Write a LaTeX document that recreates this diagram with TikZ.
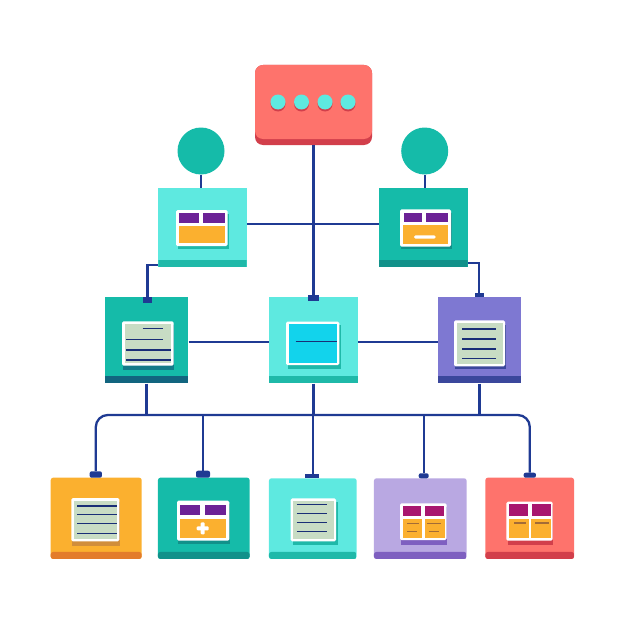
\documentclass[tikz,border=0pt]{standalone}
\usepackage{tikz}
\usetikzlibrary{positioning}
\definecolor{coral}{HTML}{FE736C}
\definecolor{coraldark}{HTML}{D23F4B}
\definecolor{aqua}{HTML}{5EE9E0}
\definecolor{aquadark}{HTML}{1FB9A9}
\definecolor{teal1}{HTML}{15BBA9}
\definecolor{tealdark}{HTML}{11918A}
\definecolor{tealblue}{HTML}{12657F}
\definecolor{violet1}{HTML}{7E78D2}
\definecolor{violetdark}{HTML}{3B479C}
\definecolor{lilac}{HTML}{B9A8E2}
\definecolor{lilacdark}{HTML}{7E5FC0}
\definecolor{amber}{HTML}{FBB02F}
\definecolor{amberdark}{HTML}{E37C2B}
\definecolor{navy1}{HTML}{1F3A93}
\definecolor{purple1}{HTML}{6C2296}
\definecolor{magenta1}{HTML}{A8176F}
\definecolor{sage}{HTML}{C8DCC4}
\definecolor{sky}{HTML}{12D3EC}
\tikzset{
    card/.style 2 args={rectangle, inner sep=0pt, fill=#1, path picture={
        \fill[#2] ([yshift=7pt]path picture bounding box.south west) rectangle (path picture bounding box.south east);}},
    soft/.style={rounded corners=2.5pt},
    bubble/.style={circle, inner sep=0pt, minimum size=47pt, fill=teal1},
    tab/.style={rectangle, inner sep=0pt, fill=navy1},
    tabround/.style={tab, rounded corners=2pt},
    link/.style={draw=navy1, line width=2.3pt},
    sheet/.style={fill=white, rounded corners=1.5pt},
    rule/.style={draw=navy1!80!black, line width=1.4pt},
    dash1/.style={draw=brown!85!black, line width=1.4pt}
}
\begin{document}
\begin{tikzpicture}[x=1pt,y=-1pt]
    \useasboundingbox (0,0) rectangle (626,626);
    % top box
    \node[rectangle, inner sep=0pt, rounded corners=8pt, fill=coraldark, minimum width=117pt, minimum height=80pt] (head) at (313.5,105) {};
    \fill[coral, rounded corners=8pt] (255,65) rectangle (372,139);
    \foreach \x in {278,301.5,325,348} {
        \fill[coraldark] (\x,104) circle (7.5);
        \fill[aqua] (\x,102) circle (7.5);
    }
    \node[bubble] (circL) at (201,151) {};
    \node[bubble] (circR) at (424.7,151) {};
    % second level
    \node[card={aqua}{aquadark}, minimum width=88.4pt, minimum height=79pt] (cardL) at (202.5,227.5) {};
    \node[card={teal1}{tealdark}, minimum width=88.7pt, minimum height=79pt] (cardR) at (423.3,227.5) {};
    % third level
    \node[card={teal1}{tealblue}, minimum width=83.6pt, minimum height=86.6pt] (cardA) at (146.5,340) {};
    \node[card={aqua}{aquadark}, minimum width=89pt, minimum height=86.6pt] (cardB) at (313.5,340) {};
    \node[card={violet1}{violetdark}, minimum width=83pt, minimum height=86.6pt] (cardC) at (479.5,340) {};
    % bottom level
    \node[card={amber}{amberdark}, soft, minimum width=91pt, minimum height=81.3pt] (cardD) at (96.2,518.3) {};
    \node[card={teal1}{tealdark}, soft, minimum width=91.7pt, minimum height=81.3pt] (cardE) at (203.8,518.3) {};
    \node[card={aqua}{aquadark}, soft, minimum width=87.7pt, minimum height=80.7pt] (cardF) at (312.8,518.6) {};
    \node[card={lilac}{lilacdark}, soft, minimum width=92.7pt, minimum height=80.7pt] (cardG) at (420.3,518.6) {};
    \node[card={coral}{coraldark}, soft, minimum width=88.7pt, minimum height=81.3pt] (cardH) at (529.7,518.3) {};
    % tabs
    \node[tab, minimum width=9.6pt, minimum height=5.7pt] (tabA) at (147.5,299.8) {};
    \node[tab, minimum width=11.3pt, minimum height=6pt] (tabB) at (313.6,297.7) {};
    \node[tab, minimum width=8.7pt, minimum height=3.7pt] (tabC) at (479.3,294.9) {};
    \node[tabround, minimum width=12.3pt, minimum height=6.4pt] (tabD) at (95.8,474.5) {};
    \node[tabround, minimum width=14pt, minimum height=7pt] (tabE) at (203,474.2) {};
    \node[tab, minimum width=14pt, minimum height=4.3pt] (tabF) at (312,476.2) {};
    \node[tabround, minimum width=10pt, minimum height=5pt] (tabG) at (423.7,475.8) {};
    \node[tabround, minimum width=12.3pt, minimum height=5pt] (tabH) at (529.8,475.2) {};
    % links
    \coordinate (joinMid) at (313.3,224.3);
    \coordinate (joinLow) at (313.3,342.3);
    \coordinate (elbowL) at (158.3,265);
    \coordinate (elbowR) at (467.7,263.3);
    \coordinate (busMid) at (313.3,415);
    \draw[link] (head.south -| tabB) -- (tabB.north);
    \draw[link] (circL) -- (circL |- cardL.north);
    \draw[link] (circR) -- (circR |- cardR.north);
    \draw[link] (cardL.east |- joinMid) -- (cardR.west |- joinMid);
    \draw[link] (elbowL) -| (tabA.north);
    \draw[link] (elbowR) -| (tabC.north);
    \draw[link] (cardA.east |- joinLow) -- (cardB.west |- joinLow);
    \draw[link] (cardB.east |- joinLow) -- (cardC.west |- joinLow);
    \draw[link] (cardA.south) -- (cardA.south |- busMid);
    \draw[link] (cardB.south) -- (cardB.south |- busMid);
    \draw[link] (cardC.south) -- (cardC.south |- busMid);
    \draw[link, rounded corners=12pt] (tabD.north) |- (busMid) -| (tabH.north);
    \draw[link] (tabE.north) -- (tabE.north |- busMid);
    \draw[link] (tabF.north -| busMid) -- (busMid);
    \draw[link] (tabG.north) -- (tabG.north |- busMid);
    % sheets on second level
    \fill[aquadark] (178,214) rectangle (229,249);
    \fill[sheet] (176,210) rectangle (227.7,246);
    \fill[purple1] (179,212.7) rectangle (199.3,222.7);
    \fill[purple1] (203.3,212.7) rectangle (225,222.7);
    \fill[amber] (179,225.7) rectangle (225,243.3);
    \fill[tealdark] (401,213) rectangle (452,249);
    \fill[sheet] (400,209.3) rectangle (451,246.7);
    \fill[purple1] (403.7,213.3) rectangle (422.3,222.3);
    \fill[purple1] (426,213.3) rectangle (447.7,222.3);
    \fill[amber] (403,225) rectangle (447.7,244.3);
    \fill[white, rounded corners=1.5pt] (414,235.3) rectangle (435.7,238.7);
    % sheets on third level
    \fill[tealblue!75!teal1] (123,325) rectangle (174,369.5);
    \fill[sheet] (122,321.3) rectangle (173.7,365.7);
    \fill[sage] (124.5,323.8) rectangle (171.2,363.2);
    \draw[rule] (142.7,328.3) -- (163.3,328.3);
    \draw[rule] (126.3,339.3) -- (163.3,339.3);
    \draw[rule] (126.3,350) -- (171,350);
    \draw[rule] (126.3,360) -- (171,360);
    \fill[aquadark] (288,325) rectangle (341,368.5);
    \fill[sheet] (286,321.7) rectangle (339.3,365);
    \fill[sky] (288.5,324.2) rectangle (336.8,362.5);
    \draw[rule] (295.7,341.7) -- (336.7,341.7);
    \fill[violetdark] (455,325) rectangle (505.5,369);
    \fill[sheet] (454,320.3) rectangle (505,366.3);
    \fill[sage] (456.5,322.8) rectangle (502.5,363.8);
    \foreach \y in {329,339,349,358.7}
        \draw[rule] (462,\y) -- (496,\y);
    % sheets on bottom level
    \fill[brown!70!amber] (72,502) rectangle (120,546);
    \fill[sheet] (71.3,498) rectangle (119.3,541.3);
    \fill[sage] (73.8,500.5) rectangle (116.8,538.8);
    \foreach \y in {506,514.3,523.3,533.3}
        \draw[rule] (77.3,\y) -- (117,\y);
    \fill[tealdark] (178,504) rectangle (230,544);
    \fill[sheet] (177,500.7) rectangle (229.3,540.7);
    \fill[purple1] (180,504.7) rectangle (200,515.3);
    \fill[purple1] (205.3,504.7) rectangle (226,515.3);
    \fill[amber] (179.7,518.7) rectangle (226,537.7);
    \fill[white, rounded corners=1pt] (196.7,526.3) rectangle (208.7,530.3);
    \fill[white, rounded corners=1pt] (200.7,522.3) rectangle (204.7,534.3);
    \fill[aquadark] (292.5,502) rectangle (338,545);
    \fill[sheet] (290.7,498.3) rectangle (336,541.3);
    \fill[sage] (293.2,500.8) rectangle (333.5,538.8);
    \foreach \y in {504.3,513.3,522.3,531.7}
        \draw[rule] (296.7,\y) -- (327.3,\y);
    \fill[lilacdark] (400.5,507) rectangle (446.5,544.5);
    \fill[sheet] (400,503.3) rectangle (446.7,540);
    \fill[magenta1] (403,506) rectangle (421,516);
    \fill[magenta1] (425,506) rectangle (444,516);
    \fill[amber] (402.7,518.7) rectangle (421.7,538.3);
    \fill[amber] (424.7,518.7) rectangle (444.7,538.3);
    \draw[dash1] (407.3,523.3) -- (419.3,523.3);
    \draw[dash1] (427.3,523.3) -- (440.7,523.3);
    \draw[dash1] (407.3,531.7) -- (416.7,531.7);
    \draw[dash1] (428.7,531.7) -- (439.3,531.7);
    \fill[coraldark] (507.5,505) rectangle (553,544.5);
    \fill[sheet] (506.3,501.7) rectangle (552.7,540.7);
    \fill[magenta1] (509.3,504.3) rectangle (528.3,516);
    \fill[magenta1] (531.7,504.3) rectangle (550.7,516);
    \fill[amber] (508.7,518.7) rectangle (528.7,538.3);
    \fill[amber] (531.3,518.7) rectangle (550.7,538.3);
    \draw[dash1] (514,523) -- (526,523);
    \draw[dash1] (535.3,523) -- (548.7,523);
\end{tikzpicture}
\end{document}
